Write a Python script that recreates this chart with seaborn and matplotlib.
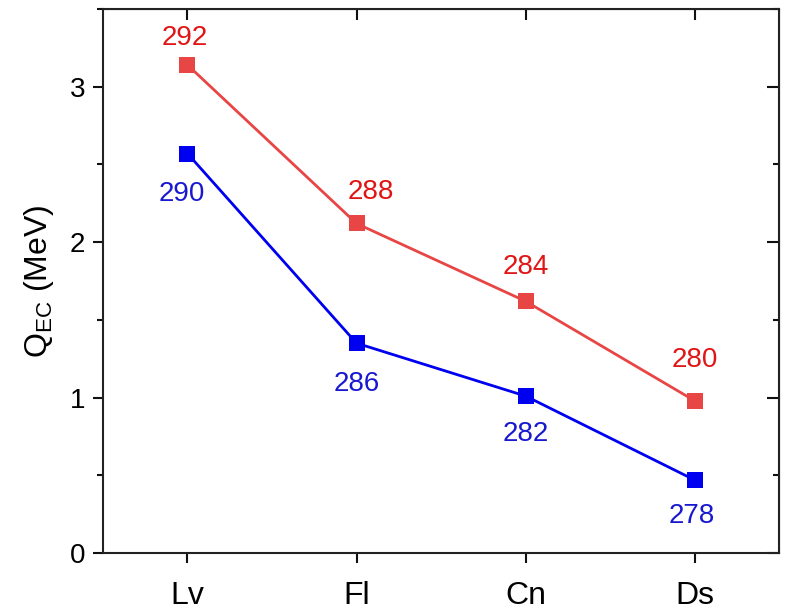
import matplotlib
matplotlib.use("Agg")
import matplotlib.pyplot as plt
import seaborn as sns
import pandas as pd
import numpy as np
from matplotlib.ticker import MultipleLocator

elements = ["Lv", "Fl", "Cn", "Ds"]
upper_vals = [3.14, 2.12, 1.62, 0.98]
upper_labels = ["292", "288", "284", "280"]
lower_vals = [2.57, 1.35, 1.01, 0.47]
lower_labels = ["290", "286", "282", "278"]

sns.set_style("ticks")
plt.rcParams["font.family"] = ["Liberation Sans", "DejaVu Sans"]
plt.rcParams["mathtext.fontset"] = "custom"
plt.rcParams["mathtext.rm"] = "Liberation Sans"
plt.rcParams["mathtext.it"] = "Liberation Sans:italic"
plt.rcParams["text.color"] = "black"
plt.rcParams["axes.labelcolor"] = "black"
plt.rcParams["xtick.color"] = "#111111"
plt.rcParams["ytick.color"] = "#111111"
plt.rcParams["xtick.labelcolor"] = "black"
plt.rcParams["ytick.labelcolor"] = "black"

red_line = "#E84545"
red_text = "#E01515"
blue_line = "#0000F0"
blue_text = "#1818D0"

xpos = np.arange(len(elements))
df = pd.concat([
    pd.DataFrame({"x": xpos, "y": upper_vals, "series": "upper"}),
    pd.DataFrame({"x": xpos, "y": lower_vals, "series": "lower"}),
])

fig = plt.figure(figsize=(7.88, 6.13), dpi=100)
ax = fig.add_axes([0.1307, 0.0979, 0.8579, 0.8874])

sns.lineplot(data=df, x="x", y="y", hue="series",
             palette={"upper": red_line, "lower": blue_line},
             marker="s", markersize=11, markeredgewidth=0,
             linewidth=2, legend=False, ax=ax)

up_off = [(-2, 19.5), (10.5, 22.5), (0, 24.5), (0, 29.5)]
lo_off = [(-4, -29), (0, -29.5), (0, -27), (-2, -26)]
for i, (v, t) in enumerate(zip(upper_vals, upper_labels)):
    ax.annotate(t, (xpos[i], v), xytext=up_off[i], textcoords="offset points",
                ha="center", va="center", fontsize=20, color=red_text)
for i, (v, t) in enumerate(zip(lower_vals, lower_labels)):
    ax.annotate(t, (xpos[i], v), xytext=lo_off[i], textcoords="offset points",
                ha="center", va="center", fontsize=20, color=blue_text)

ax.set_xlim(-0.5, 3.5)
ax.set_ylim(0, 3.5)
ax.set_xticks(xpos)
ax.set_xticklabels(elements, fontsize=23)
ax.yaxis.set_major_locator(MultipleLocator(1))
ax.yaxis.set_minor_locator(MultipleLocator(0.5))
ax.tick_params(axis="y", labelsize=20)
ax.set_xlabel("")
ax.set_ylabel(r"Q$_{\mathrm{EC}}$ (MeV)", fontsize=23, labelpad=10)

for s in ax.spines.values():
    s.set_visible(True)
    s.set_linewidth(1.5)
    s.set_color("#222222")

ax.tick_params(axis="x", which="major", direction="out", length=7, width=1.5,
               bottom=True, top=False, pad=13)
ax.tick_params(axis="y", which="major", direction="out", length=7, width=1.5,
               left=True, right=False, pad=6)
ax.tick_params(axis="y", which="minor", direction="out", length=4, width=1.5,
               left=True, right=False)

# inward ticks on top and right
axt = ax.secondary_xaxis("top")
axt.set_xticks(xpos)
axt.set_xticklabels([])
axt.tick_params(direction="in", length=8, width=1.5)
axr = ax.secondary_yaxis("right")
axr.yaxis.set_major_locator(MultipleLocator(1))
axr.yaxis.set_minor_locator(MultipleLocator(0.5))
axr.set_yticklabels([])
axr.tick_params(which="major", direction="in", length=9, width=1.5)
axr.tick_params(which="minor", direction="in", length=4, width=1.5)
axr.tick_params(labelright=False)

fig.savefig("out.png", dpi=100)
